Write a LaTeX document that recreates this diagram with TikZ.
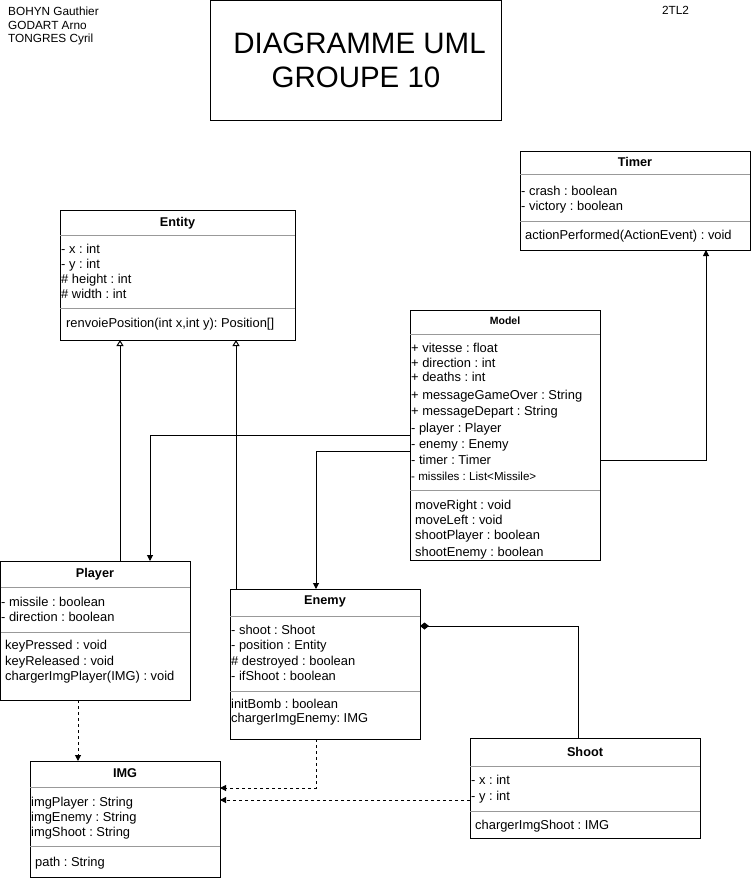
\documentclass[tikz,border=0pt]{standalone}
\usepackage{fontspec}
\setmainfont{Liberation Sans}
\usetikzlibrary{arrows.meta}
\frenchspacing
\begin{document}
\begin{tikzpicture}[x=1pt,y=-1pt,
  every node/.append style={execute at begin node=\frenchspacing},
  box/.style={draw=black, line width=1pt, anchor=north west, inner sep=0pt, outer sep=0pt},
  sepline/.style={draw=black!40, line width=1pt},
  attr/.style={anchor=base west, inner sep=0pt, font=\fontsize{12.9}{15}\selectfont},
  smallattr/.style={anchor=base west, inner sep=0pt, font=\fontsize{11.6}{14}\selectfont},
  ctitle/.style={anchor=base, inner sep=0pt, font=\fontsize{12.7}{15}\selectfont\bfseries},
  hdr/.style={anchor=base west, inner sep=0pt, font=\fontsize{11.8}{14}\selectfont},
  conn/.style={draw=black, line width=1pt},
  inh/.style={conn, -{Triangle[open, length=6pt, width=7pt, fill=white]}},
  assoc/.style={conn, -{Triangle[length=6pt, width=6pt]}},
  dep/.style={conn, dash pattern=on 3pt off 3pt, -{Triangle[length=6pt, width=6pt]}},
  comp/.style={conn, -{Diamond[length=9pt, width=7pt]}}
]
\useasboundingbox (0,0) rectangle (751,878);

% header
\node[hdr] (n1) at (8,15.5) {BOHYN Gauthier};
\node[hdr] (n2) at (8,29) {GODART Arno};
\node[hdr] (n3) at (8,42.5) {TONGRES Cyril};
\node[anchor=base, inner sep=0pt, font=\fontsize{11.8}{14}\selectfont] (grp) at (675.5,14) {2TL2};
\node[box, minimum width=291pt, minimum height=119.5pt] (titlebox) at (210,0.5) {};
\node[anchor=base, inner sep=0pt, font=\fontsize{29.5}{34}\selectfont] (t1) at (359.5,53.5) {DIAGRAMME UML};
\node[anchor=base, inner sep=0pt, font=\fontsize{29.5}{34}\selectfont] (t2) at (356,87) {GROUPE 10};

% Timer
\node[box, minimum width=230pt, minimum height=99pt] (timer) at (520,151) {};
\node[ctitle] (timerT) at (635,166) {Timer};
\draw[sepline] (timer.west |- 0,174.5) -- (timer.east |- 0,174.5);
\node[attr] (tm1) at (521,195.5) {- crash : boolean};
\node[attr] (tm2) at (521,210.5) {- victory : boolean};
\draw[sepline] (timer.west |- 0,221) -- (timer.east |- 0,221);
\node[attr] (tm3) at (525,239.5) {actionPerformed(ActionEvent) : void};

% Entity
\node[box, minimum width=235pt, minimum height=130pt] (entity) at (60,210) {};
\node[ctitle] (entityT) at (177.5,226.5) {Entity};
\draw[sepline] (entity.west |- 0,235) -- (entity.east |- 0,235);
\node[attr] (en1) at (61,253.5) {- x : int};
\node[attr] (en2) at (61,268.5) {- y : int};
\node[attr] (en3) at (61,283.5) {\# height : int};
\node[attr] (en4) at (61,298.5) {\# width : int};
\draw[sepline] (entity.west |- 0,308.5) -- (entity.east |- 0,308.5);
\node[attr] (en5) at (66,327.5) {renvoiePosition(int x,int y): Position[]};

% Model
\node[box, minimum width=190pt, minimum height=250pt] (model) at (410,310) {};
\node[anchor=base, inner sep=0pt, font=\fontsize{10.5}{13}\selectfont\bfseries] (modelT) at (505,324.5) {Model};
\draw[sepline] (model.west |- 0,334.5) -- (model.east |- 0,334.5);
\node[attr] (m1) at (411,352) {+ vitesse : float};
\node[attr] (m2) at (411,367) {+ direction : int};
\node[attr] (m3) at (411,381.5) {+ deaths : int};
\node[attr] (m4) at (411,399) {+ messageGameOver : String};
\node[attr] (m5) at (411,415.5) {+ messageDepart : String};
\node[attr] (m6) at (411,432) {- player : Player};
\node[attr] (m7) at (411,448) {- enemy : Enemy};
\node[attr] (m8) at (411,464.5) {- timer : Timer};
\node[smallattr] (m9) at (411,480) {- missiles : List<Missile>};
\draw[sepline] (model.west |- 0,490) -- (model.east |- 0,490);
\node[attr] (m10) at (415,509.5) {moveRight : void};
\node[attr] (m11) at (415,524) {moveLeft : void};
\node[attr] (m12) at (415,539.5) {shootPlayer : boolean};
\node[attr] (m13) at (415,556) {shootEnemy : boolean};

% Player
\node[box, minimum width=189.5pt, minimum height=139pt] (player) at (0.5,561) {};
\node[ctitle] (playerT) at (95,577.5) {Player};
\draw[sepline] (player.west |- 0,587) -- (player.east |- 0,587);
\node[attr] (p1) at (1,606) {- missile : boolean};
\node[attr] (p2) at (1,621) {- direction : boolean};
\draw[sepline] (player.west |- 0,632) -- (player.east |- 0,632);
\node[attr] (p3) at (5,649.5) {keyPressed : void};
\node[attr] (p4) at (5,665) {keyReleased : void};
\node[attr] (p5) at (5,680) {chargerImgPlayer(IMG) : void};

% Enemy
\node[box, minimum width=190pt, minimum height=150pt] (enemy) at (230,589) {};
\node[ctitle] (enemyT) at (325,604.5) {Enemy};
\draw[sepline] (enemy.west |- 0,616.5) -- (enemy.east |- 0,616.5);
\node[attr] (e1) at (231,634.5) {- shoot : Shoot};
\node[attr] (e2) at (231,649.5) {- position : Entity};
\node[attr] (e3) at (231,665) {\# destroyed : boolean};
\node[attr] (e4) at (231,680) {- ifShoot : boolean};
\draw[sepline] (enemy.west |- 0,691) -- (enemy.east |- 0,691);
\node[attr] (e5) at (231,708) {initBomb : boolean};
\node[attr] (e6) at (231,722) {chargerImgEnemy: IMG};

% IMG
\node[box, minimum width=190pt, minimum height=116pt] (img) at (30,761) {};
\node[ctitle] (imgT) at (125,777.5) {IMG};
\draw[sepline] (img.west |- 0,787) -- (img.east |- 0,787);
\node[attr] (i1) at (31,806.5) {imgPlayer : String};
\node[attr] (i2) at (31,821.5) {imgEnemy : String};
\node[attr] (i3) at (31,836.5) {imgShoot : String};
\draw[sepline] (img.west |- 0,846) -- (img.east |- 0,846);
\node[attr] (i4) at (35,866) {path : String};

% Shoot
\node[box, minimum width=230pt, minimum height=100pt] (shoot) at (470,738.5) {};
\node[ctitle] (shootT) at (585,756) {Shoot};
\draw[sepline] (shoot.west |- 0,766.5) -- (shoot.east |- 0,766.5);
\node[attr] (s1) at (471,784.5) {- x : int};
\node[attr] (s2) at (471,800) {- y : int};
\draw[sepline] (shoot.west |- 0,811) -- (shoot.east |- 0,811);
\node[attr] (s3) at (475,829.5) {chargerImgShoot : IMG};

% connectors
\draw[inh] (player.north -| 120,0) -- (entity.south -| 120,0);
\draw[inh] (enemy.north -| 236,0) -- (entity.south -| 236,0);
\draw[assoc] (model.west |- 0,435) -| (player.north -| 150,0);
\draw[assoc] (model.west |- 0,451) -| (enemy.north -| 316,0);
\draw[assoc] (model.east |- 0,460) -| (timer.south -| 706,0);
\draw[comp] (shoot.north -| 578,0) |- (enemy.east |- 0,626);
\draw[dep] (player.south -| 78,0) -- (img.north -| 78,0);
\draw[dep] (enemy.south -| 316,0) |- (img.east |- 0,788);
\draw[dep] (shoot.west |- 0,800) -- (img.east |- 0,800);
\end{tikzpicture}
\end{document}
